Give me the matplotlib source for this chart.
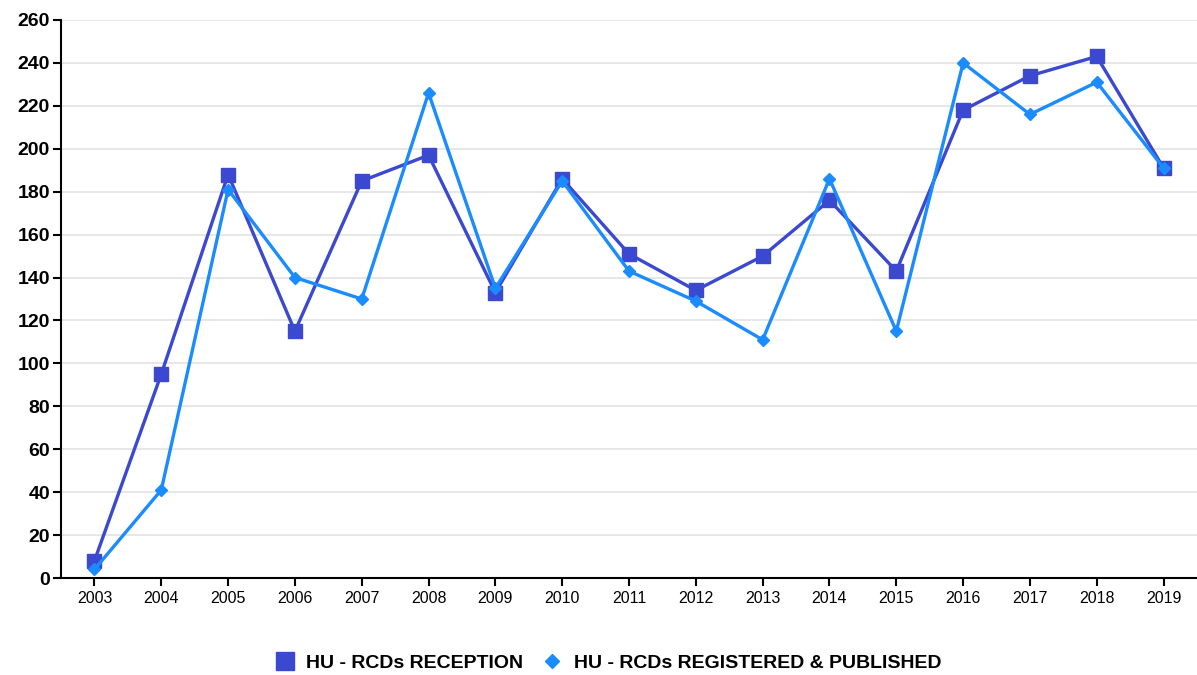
import matplotlib.pyplot as plt

years = list(range(2003, 2020))
reception = [8, 95, 188, 115, 185, 197, 133, 186, 151, 134, 150, 176, 143, 218, 234, 243, 191]
registered = [4, 41, 181, 140, 130, 226, 135, 185, 143, 129, 111, 186, 115, 240, 216, 231, 191]

plt.rcParams['font.family'] = ['Liberation Sans', 'DejaVu Sans']

fig = plt.figure(figsize=(11.97, 6.75), dpi=100)
ax = fig.add_axes([0.051, 0.1437, 0.949, 0.8267])

ax.plot(years, reception, color='#3b48d0', linewidth=2.4, marker='s', markersize=10.5,
        label='HU - RCDs RECEPTION', zorder=3)
ax.plot(years, registered, color='#1a8cff', linewidth=2.4, marker='D', markersize=6,
        label='HU - RCDs REGISTERED & PUBLISHED', zorder=4)

ax.set_xlim(2002.5, 2019.5)
ax.set_ylim(0, 260)
ax.set_yticks(range(0, 261, 20))
ax.set_xticks(years)
ax.set_xticklabels([str(y) for y in years], fontsize=11.5)
for lbl in ax.get_yticklabels():
    lbl.set_fontsize(14)
    lbl.set_fontweight('bold')

ax.grid(axis='y', color='#e3e3e3', linewidth=1.2)
ax.set_axisbelow(True)
ax.spines['top'].set_visible(False)
ax.spines['right'].set_visible(False)
ax.spines['left'].set_linewidth(1.5)
ax.spines['bottom'].set_linewidth(1.5)
ax.tick_params(axis='both', direction='out', length=6, width=1.5, color='black')
ax.tick_params(axis='x', pad=3)
ax.tick_params(axis='y', pad=2)

leg = fig.legend(loc='center', bbox_to_anchor=(0.508, 0.018), ncol=2, frameon=False,
                 prop={'weight': 'bold', 'size': 14}, handlelength=1.0,
                 columnspacing=1.0, handletextpad=0.6, markerscale=1.25)
for line in leg.get_lines():
    line.set_linestyle('')

fig.savefig('out.png', dpi=100)
